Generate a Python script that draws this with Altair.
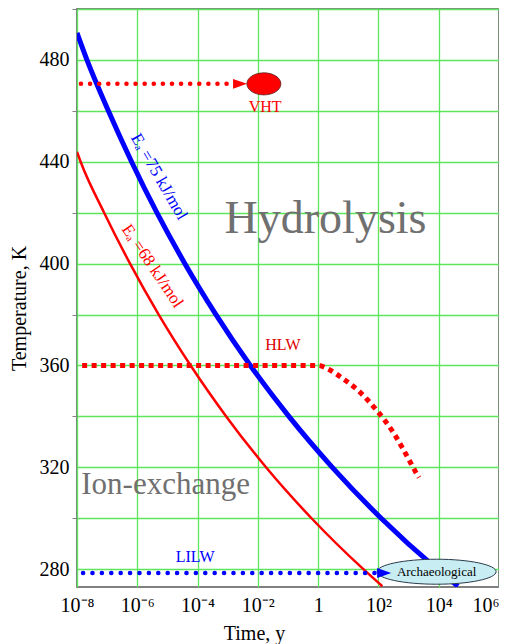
import altair as alt
import pandas as pd

# x values are log10(time in years), y values are temperature in K
blue_logt = [-8.0, -7.67, -6.96, -6.19, -5.35, -4.42, -3.39, -2.25, -0.97, 0.47, 2.09, 3.95, 4.64]
blue_T = [490.6, 480.0, 460.0, 440.0, 420.0, 400.0, 380.0, 360.0, 340.0, 320.0, 300.0, 280.0, 273.3]

red_logt = [-8.0, -7.88, -7.10, -6.24, -5.29, -4.23, -3.05, -1.73, -0.22, 1.50, 2.13]
red_T = [443.9, 440.0, 420.0, 400.0, 380.0, 360.0, 340.0, 320.0, 300.0, 280.0, 273.3]

hlw_logt = [-7.83, 0.0, 0.36, 0.86, 1.36, 1.62, 1.95, 2.25, 2.52, 2.75, 2.92, 3.08, 3.22, 3.35]
hlw_T = [360.0, 360.0, 358.4, 354.5, 349.8, 346.7, 342.3, 337.8, 333.2, 328.6, 325.0, 321.5, 318.5, 316.0]

vht_logt = [-7.87, -2.75]
vht_T = [470.6, 470.6]

lilw_logt = [-7.8, 2.1]
lilw_T = [278.5, 278.5]

# markers: VHT ellipse, Archaeological ellipse, arrow heads
vht_mark = {"logt": [-1.80], "T": [470.6]}
arch_mark = {"logt": [3.93], "T": [279.0]}
red_arrow = {"logt": [-2.59], "T": [470.6]}
blue_arrow = {"logt": [2.19], "T": [278.5]}

# text labels
small_labels = ["VHT", "HLW", "LILW"]
small_logt = [-1.76, -1.17, -4.08]
small_T = [461.6, 368.0, 284.9]
small_colors = ["#ff0000", "#dd0000", "#0000ff"]

big_labels = ["Hydrolysis", "Ion-exchange"]
big_logt = [0.245, -5.06]
big_T = [412.2, 309.4]
big_sizes = [46, 31]

ea_labels = ["E\u2090 =75 kJ/mol", "E\u2090 =68 kJ/mol"]
ea_logt = [-5.28, -5.50]
ea_T = [434.1, 399.0]
ea_angles = [60, 56]
ea_colors = ["#0000ff", "#ff0000"]

x_tick_values = [-8, -6, -4, -2, 0, 2, 4, 6]
x_tick_labels = ["10\u207b\u2078", "10\u207b\u2076", "10\u207b\u2074", "10\u207b\u00b2", "1",
                 "10\u00b2", "10\u2074", "10\u2076"]
y_tick_values = [280, 300, 320, 340, 360, 380, 400, 420, 440, 460, 480, 500]

FONT = "Liberation Serif"

expr = "''"
for v, l in reversed(list(zip(x_tick_values, x_tick_labels))):
    expr = f"datum.value == {v} ? '{l}' : {expr}"

X = alt.X("logt:Q",
          scale=alt.Scale(domain=[-8, 6], nice=False, zero=False),
          axis=alt.Axis(values=x_tick_values, labelExpr=expr, grid=True, ticks=False,
                        tickSize=0, domain=False, labelPadding=8, labelFontSize=20,
                        labelFont=FONT, labelColor="#000000", labelFlush=False,
                        labelAlign={"condition": {"test": "datum.value == 6", "value": "right"},
                                    "value": "center"},
                        title="Time, y", titleFont=FONT, titleFontSize=20,
                        titleFontWeight="normal", titleColor="#000000",
                        titleX=177, titleY=52, titleAlign="center",
                        titleBaseline="alphabetic"))
Y = alt.Y("T:Q",
          scale=alt.Scale(domain=[273, 500], nice=False, zero=False),
          axis=alt.Axis(values=y_tick_values,
                        labelExpr="datum.value % 40 == 0 ? datum.value : ''",
                        grid=True, ticks=True, tickSize=5,
                        tickColor={"condition": {"test": "datum.value % 40 == 0",
                                                 "value": "transparent"},
                                   "value": "#808080"},
                        domain=False, labelPadding=3, labelFontSize=20,
                        labelFont=FONT, labelColor="#000000",
                        title="Temperature, K", titleFont=FONT, titleFontSize=20,
                        titleFontWeight="normal", titleColor="#000000",
                        titleAngle=270, titleX=-58, titleY=299, titleAlign="center",
                        titleBaseline="middle"))

blue = alt.Chart(pd.DataFrame({"logt": blue_logt, "T": blue_T})).mark_line(
    color="#0000ff", strokeWidth=5, interpolate="monotone", clip=True).encode(x=X, y=Y)
red = alt.Chart(pd.DataFrame({"logt": red_logt, "T": red_T})).mark_line(
    color="#ff0000", strokeWidth=2.5, interpolate="monotone", clip=True).encode(x=X, y=Y)
hlw = alt.Chart(pd.DataFrame({"logt": hlw_logt, "T": hlw_T})).mark_line(
    color="#ff0000", strokeWidth=5, strokeDash=[5, 4.5], interpolate="monotone",
    clip=True).encode(x=X, y=Y)
vht = alt.Chart(pd.DataFrame({"logt": vht_logt, "T": vht_T})).mark_line(
    color="#ff0000", strokeWidth=4.5, strokeDash=[0.1, 9], strokeCap="round").encode(x=X, y=Y)
lilw = alt.Chart(pd.DataFrame({"logt": lilw_logt, "T": lilw_T})).mark_line(
    color="#0000ff", strokeWidth=4.5, strokeDash=[0.1, 9.3], strokeCap="round").encode(x=X, y=Y)

vht_ell = alt.Chart(pd.DataFrame(vht_mark)).mark_point(
    shape="M -1 0 A 1 0.65 0 1 1 1 0 A 1 0.65 0 1 1 -1 0 Z", size=34 * 34,
    filled=True, fill="#ff0000", stroke="#552222", strokeWidth=0.8, opacity=1).encode(x=X, y=Y)
arch_ell = alt.Chart(pd.DataFrame(arch_mark)).mark_point(
    shape="M -1 0 A 1 0.21 0 1 1 1 0 A 1 0.21 0 1 1 -1 0 Z", size=119 * 119,
    filled=True, fill="#c8eef4", stroke="#2a3a4a", strokeWidth=1, opacity=1).encode(x=X, y=Y)
arrow_shape = "M -1 -0.7 L 1 0 L -1 0.7 Z"
r_arrow = alt.Chart(pd.DataFrame(red_arrow)).mark_point(
    shape=arrow_shape, size=196, filled=True, color="#ff0000", opacity=1).encode(x=X, y=Y)
b_arrow = alt.Chart(pd.DataFrame(blue_arrow)).mark_point(
    shape=arrow_shape, size=196, filled=True, color="#0000ff", opacity=1).encode(x=X, y=Y)

small_df = pd.DataFrame({"logt": small_logt, "T": small_T, "label": small_labels,
                         "c": small_colors})
small_txt = alt.Chart(small_df).mark_text(font=FONT, fontSize=16, baseline="middle").encode(
    x=X, y=Y, text="label:N", color=alt.Color("c:N", scale=None))

big_df = pd.DataFrame({"logt": big_logt, "T": big_T, "label": big_labels, "s": big_sizes})
big_txt = alt.Chart(big_df).mark_text(font=FONT, baseline="alphabetic", color="#707070").encode(
    x=X, y=Y, text="label:N", size=alt.Size("s:Q", scale=None))

arch_txt = alt.Chart(pd.DataFrame({"logt": arch_mark["logt"], "T": arch_mark["T"],
                                   "label": ["Archaeological"]})).mark_text(
    font=FONT, fontSize=13, baseline="middle", color="#000000").encode(x=X, y=Y, text="label:N")

ea_layers = []
for lab, lx, ly, ang, col in zip(ea_labels, ea_logt, ea_T, ea_angles, ea_colors):
    ea_layers.append(alt.Chart(pd.DataFrame({"logt": [lx], "T": [ly], "label": [lab]})).mark_text(
        font=FONT, fontSize=17, baseline="middle", angle=ang, color=col).encode(
        x=X, y=Y, text="label:N"))

chart = alt.layer(red, blue, hlw, vht, r_arrow, vht_ell, arch_ell, lilw, b_arrow,
                  small_txt, big_txt, arch_txt, *ea_layers).properties(
    width=422, height=578,
    autosize=alt.AutoSizeParams(type="none"),
    padding={"left": 69, "top": 1, "right": 0, "bottom": 57},
    background="#ffffff",
).configure_view(stroke="#808080", strokeWidth=2).configure_axis(
    gridColor="#5ce65c", gridWidth=1.3, gridOpacity=1)

chart.save("out.html", embed_options={"renderer": "svg", "actions": False})
